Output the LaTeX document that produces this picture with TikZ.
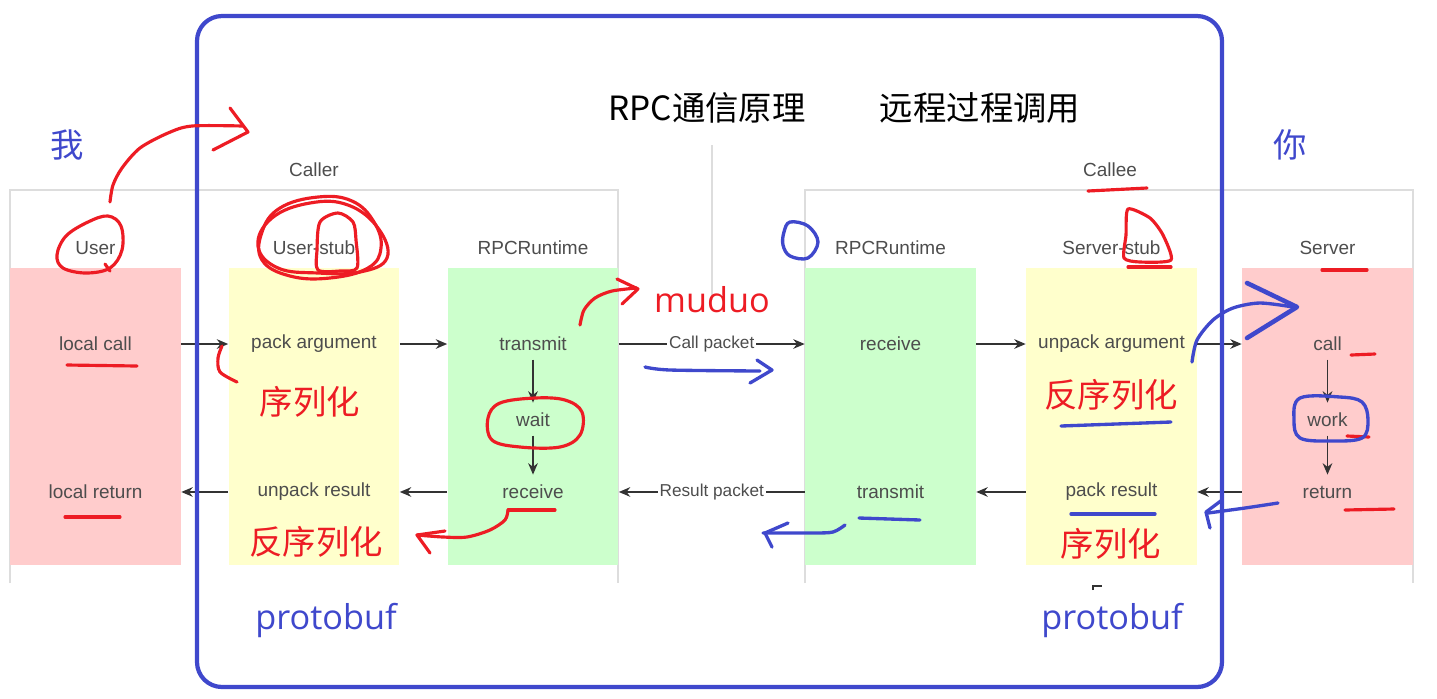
\documentclass[tikz,border=0pt]{standalone}
\usepackage{fontspec}
\setmainfont{Liberation Sans}
\newfontfamily\cjkfont{Noto Sans CJK SC}
\newfontfamily\notefont{Open Sans}
\usetikzlibrary{arrows.meta, positioning}

\definecolor{pinkfill}{HTML}{FFCCCC}
\definecolor{yellowfill}{HTML}{FFFFCC}
\definecolor{greenfill}{HTML}{CCFFCC}
\definecolor{framegray}{HTML}{DDDDDD}
\definecolor{labelgray}{HTML}{4D4D4D}
\definecolor{arrowgray}{HTML}{333333}
\definecolor{penred}{HTML}{ED1C24}
\definecolor{penblue}{HTML}{3F48CC}

\begin{document}
\begin{tikzpicture}[x=0.02cm, y=-0.02cm, on grid,
  >={Stealth[length=6.5pt,width=5.5pt]},
  lane/.style={rectangle, minimum width=3.42cm, minimum height=5.94cm, inner sep=0pt},
  rowtxt/.style={rectangle, minimum width=3.42cm, minimum height=0.4cm, inner sep=0pt,
    text=labelgray, font=\fontsize{10.8}{13}\selectfont},
  head/.style={text=labelgray, font=\fontsize{10.8}{13}\selectfont},
  flow/.style={->, draw=arrowgray, line width=0.75pt},
  vflow/.style={flow, shorten <=3pt, shorten >=4pt},
  pktlbl/.style={fill=white, inner sep=1pt, text=labelgray, font=\fontsize{9.8}{12}\selectfont},
  frame/.style={draw=framegray, line width=1pt},
  redpen/.style={draw=penred, line width=1.8pt, line cap=round, line join=round},
  bluepen/.style={draw=penblue, line width=1.9pt, line cap=round, line join=round},
  redword/.style={text=penred, font=\cjkfont\fontsize{19}{22}\selectfont},
  blueword/.style={text=penblue, font=\notefont\fontsize{19.5}{22}\selectfont}]

  \useasboundingbox (0,0) rectangle (1437,698);

  % group frames
  \draw[frame] (10,583) |- (618,190) -- (618,583);
  \draw[frame] (805,583) |- (1413,190) -- (1413,583);
  \draw[frame] (712,145) -- (712,300);
  \node[head] (caller) at (314,170) {Caller};
  \node[head] (callee) at (1110,170) {Callee};

  % lanes
  \node[lane, fill=pinkfill]   (userlane)  at (95.5,416.5)   {};
  \node[lane, fill=yellowfill] (ustublane) at (314,416.5)    {};
  \node[lane, fill=greenfill]  (crunlane)  at (533,416.5)    {};
  \node[lane, fill=greenfill]  (srunlane)  at (890.5,416.5)  {};
  \node[lane, fill=yellowfill] (sstublane) at (1111.5,416.5) {};
  \node[lane, fill=pinkfill]   (serverlane) at (1327.5,416.5) {};

  \node[head] (userhd)  at (95.5,248)   {User};
  \node[head] (ustubhd) at (314,248)    {User-stub};
  \node[head] (crunhd)  at (533,248)    {RPCRuntime};
  \node[head] (srunhd)  at (890.5,248)  {RPCRuntime};
  \node[head] (sstubhd) at (1111.5,248) {Server-stub};
  \node[head] (serverhd) at (1327.5,248) {Server};

  % call row
  \node[rowtxt] (lcall)   at (95.5,344)   {local call};
  \node[rowtxt] (packarg) at (314,344)    {pack argument};
  \node[rowtxt] (ctrans)  at (533,344)    {transmit};
  \node[rowtxt] (srecv)   at (890.5,344)  {receive};
  \node[rowtxt] (unpkarg) at (1111.5,344) {unpack argument};
  \node[rowtxt] (scall)   at (1327.5,344) {call};

  \node[rowtxt] (cwait) [below=1.52cm of ctrans] {wait};
  \node[rowtxt] (swork) [below=1.52cm of scall]  {work};

  % return row
  \node[rowtxt] (lret)    [below=2.96cm of lcall]   {local return};
  \node[rowtxt] (unpkres) [below=2.96cm of packarg] {unpack result};
  \node[rowtxt] (crecv)   [below=2.96cm of ctrans]  {receive};
  \node[rowtxt] (strans)  [below=2.96cm of srecv]   {transmit};
  \node[rowtxt] (packres) [below=2.96cm of unpkarg] {pack result};
  \node[rowtxt] (sret)    [below=2.96cm of scall]   {return};

  \draw[flow] (lcall) -- (packarg);
  \draw[flow] (packarg) -- (ctrans);
  \draw[flow] (ctrans) -- node[pktlbl] (callpkt) {Call packet} (srecv);
  \draw[flow] (srecv) -- (unpkarg);
  \draw[flow] (unpkarg) -- (scall);
  \draw[vflow] (ctrans) -- (cwait);
  \draw[vflow] (cwait) -- (crecv);
  \draw[vflow] (scall) -- (swork);
  \draw[vflow] (swork) -- (sret);
  \draw[flow] (sret) -- (packres);
  \draw[flow] (packres) -- (strans);
  \draw[flow] (strans) -- node[pktlbl] (respkt) {Result packet} (crecv);
  \draw[flow] (crecv) -- (unpkres);
  \draw[flow] (unpkres) -- (lret);
  \draw[arrowgray, line width=0.6pt] (1093,590) -- (1093,586) -- (1102,586);

  % titles and notes
  \node[font=\cjkfont\fontsize{19}{22}\selectfont] (title) at (707,108) {RPC通信原理};
  \node[font=\cjkfont\fontsize{19}{22}\selectfont] (subtitle) at (980,108) {远程过程调用};
  \node[text=penblue, font=\cjkfont\fontsize{19}{22}\selectfont] (me) at (67,145) {我};
  \node[text=penblue, font=\cjkfont\fontsize{19}{22}\selectfont] (you) at (1290,145) {你};
  \node[redword] (ser1)   at (310,402)  {序列化};
  \node[redword] (deser1) at (316,542)  {反序列化};
  \node[redword] (deser2) at (1111,395) {反序列化};
  \node[redword] (ser2)   at (1111,544) {序列化};
  \node[text=penred, font=\notefont\fontsize{19.5}{22}\selectfont] (muduo) at (712,300) {muduo};
  \node[blueword] (proto1) at (326,620)  {protobuf};
  \node[blueword] (proto2) at (1112,620) {protobuf};

  % blue frame
  \draw[penblue, line width=2.4pt, rounded corners=0.5cm] (197,16) rectangle (1222,687);

  % red pen marks
  \draw[redpen] plot[smooth cycle, tension=0.6] coordinates {(108,216) (88,222) (66,236) (57,255) (63,268) (86,273) (110,268) (122,250) (121,226)};
  \draw[redpen] (105,264) -- (110,271);
  \draw[redpen] plot[smooth] coordinates {(110,202) (113,185) (122,168) (140,148) (168,133) (192,126) (243,126)};
  \draw[redpen] (230,108) -- (248,132) -- (213,150);
  \draw[redpen] plot[smooth cycle, tension=0.7] coordinates {(262,232) (280,208) (318,197) (352,201) (374,222) (381,248) (368,268) (330,278) (290,276) (262,260)};
  \draw[redpen] plot[smooth cycle, tension=0.7] coordinates {(258,246) (272,218) (310,203) (348,205) (378,228) (387,258) (360,272) (318,273) (278,268)};
  \draw[redpen] plot[smooth cycle, tension=0.5] coordinates {(320,222) (317,250) (318,270) (340,271) (357,268) (356,240) (353,222) (338,213)};
  \draw[redpen] plot[smooth] coordinates {(222,346) (218,358) (220,372) (237,382)};
  \draw[redpen] (67,365) -- (137,366);
  \draw[redpen] (65,517) -- (120,517);
  \draw[redpen] plot[smooth] coordinates {(580,325) (584,310) (595,298) (612,291) (637,288)};
  \draw[redpen] (617,279) -- (638,289) -- (622,304);
  \draw[redpen] plot[smooth cycle, tension=0.6] coordinates {(535,398) (565,400) (582,412) (580,435) (560,447) (520,447) (492,440) (488,418) (500,403)};
  \draw[redpen] (555,510) -- (508,510);
  \draw[redpen] plot[smooth] coordinates {(508,510) (505,520) (490,530) (467,537) (443,537) (417,535)};
  \draw[redpen] (445,531) -- (417,535) -- (430,553);
  \draw[redpen] (1088,191) -- (1147,188);
  \draw[redpen] plot[smooth cycle, tension=0.4] coordinates {(1128,209) (1150,218) (1163,235) (1171,260) (1140,262) (1124,258) (1126,235)};
  \draw[redpen] (1128,267) -- (1171,267);
  \draw[redpen] (1322,270) -- (1367,270);
  \draw[redpen] (1351,355) -- (1375,354);
  \draw[redpen] (1347,436) -- (1369,437);
  \draw[redpen] (1345,510) -- (1394,509);

  % blue pen marks
  \draw[bluepen] plot[smooth cycle, tension=0.6] coordinates {(790,222) (808,226) (818,242) (808,258) (790,256) (783,245) (784,232)};
  \draw[bluepen] plot[smooth] coordinates {(645,367) (670,370) (760,371)};
  \draw[bluepen] (757,360) -- (772,370) -- (750,383);
  \draw[bluepen] plot[smooth] coordinates {(845,525) (833,532) (812,533) (763,533)};
  \draw[bluepen] (788,523) -- (765,533) -- (772,547);
  \draw[bluepen] (859,518) -- (920,520);
  \draw[bluepen] (1061,426) -- (1171,422);
  \draw[bluepen] (1071,514) -- (1155,514);
  \draw[bluepen] plot[smooth] coordinates {(1192,362) (1197,340) (1213,320) (1233,308) (1260,303) (1293,307)};
  \draw[bluepen, line width=2.6pt] (1247,283) -- (1297,307) -- (1247,338);
  \draw[bluepen] plot[smooth cycle, tension=0.6] coordinates {(1300,398) (1340,397) (1362,402) (1368,420) (1362,438) (1330,441) (1300,438) (1294,420)};
  \draw[bluepen] plot[smooth] coordinates {(1278,503) (1245,508) (1208,513)};
  \draw[bluepen] (1222,500) -- (1206,512) -- (1210,528);
\end{tikzpicture}
\end{document}
